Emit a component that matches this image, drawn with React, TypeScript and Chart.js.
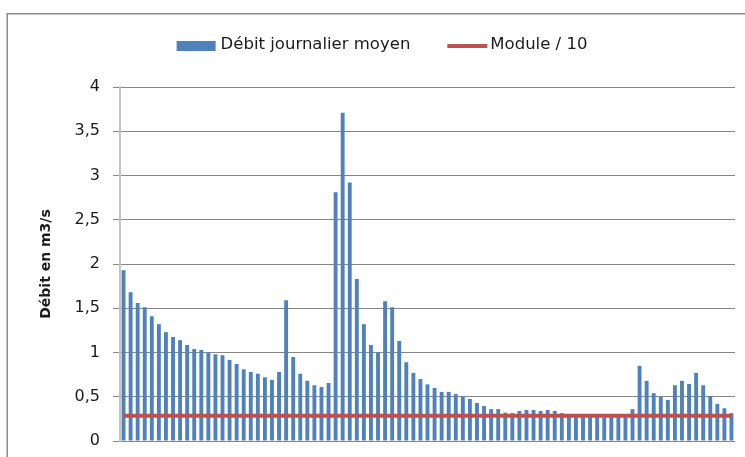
import React, { useEffect, useRef } from "react";
import { Chart, registerables } from "chart.js";

Chart.register(...registerables);

// ---- Data ----
const days = [
  "1", "2", "3", "4", "5", "6", "7", "8", "9", "10",
  "11", "12", "13", "14", "15", "16", "17", "18", "19", "20",
  "21", "22", "23", "24", "25", "26", "27", "28", "29", "30",
  "31", "32", "33", "34", "35", "36", "37", "38", "39", "40",
  "41", "42", "43", "44", "45", "46", "47", "48", "49", "50",
  "51", "52", "53", "54", "55", "56", "57", "58", "59", "60",
  "61", "62", "63", "64", "65", "66", "67", "68", "69", "70",
  "71", "72", "73", "74", "75", "76", "77", "78", "79", "80",
  "81", "82", "83", "84", "85", "86", "87",
];

const debitJournalierMoyen = [
  1.93, 1.68, 1.56, 1.51, 1.41, 1.32, 1.23, 1.175, 1.14, 1.085,
  1.04, 1.03, 1.0, 0.98, 0.97, 0.915, 0.87, 0.81, 0.78, 0.76,
  0.72, 0.69, 0.78, 1.59, 0.95, 0.76, 0.68, 0.63, 0.61, 0.655,
  2.81, 3.71, 2.92, 1.83, 1.32, 1.085, 1.0, 1.58, 1.51, 1.13,
  0.89, 0.77, 0.7, 0.64, 0.6, 0.555, 0.555, 0.53, 0.5, 0.475,
  0.43, 0.395, 0.36, 0.36, 0.32, 0.315, 0.34, 0.35, 0.35, 0.34,
  0.35, 0.34, 0.315, 0.28, 0.28, 0.27, 0.28, 0.28, 0.27, 0.28,
  0.28, 0.28, 0.36, 0.85, 0.68, 0.54, 0.5, 0.465, 0.63, 0.68,
  0.645, 0.77, 0.63, 0.51, 0.42, 0.37, 0.315,
];

const moduleSur10Value = 0.286;
const moduleSur10 = debitJournalierMoyen.map(() => moduleSur10Value);

const legendLabels = ["Débit journalier moyen", "Module / 10"];
const yAxisTitle = "Débit en m3/s";
const yMin = 0;
const yMax = 4;
const yStep = 0.5;

// ---- Styles ----
const BAR_COLOR = "#4F81BD";
const LINE_COLOR = "#C0504D";
const GRID_COLOR = "#868686";
const TEXT_COLOR = "#1a1a1a";
const FONT = '"DejaVu Sans", sans-serif';

const framePlugin = {
  id: "frame",
  beforeDraw(chart: any) {
    const ctx = chart.ctx;
    ctx.save();
    ctx.fillStyle = "#ffffff";
    ctx.fillRect(0, 0, chart.width, chart.height);
    ctx.strokeStyle = "#8c8c8c";
    ctx.lineWidth = 1.5;
    ctx.strokeRect(7.25, 13.75, 780, 480);
    ctx.restore();
  },
};

const legendPlugin = {
  id: "customLegend",
  afterDraw(chart: any) {
    const ctx = chart.ctx;
    ctx.save();
    ctx.font = `16.5px ${FONT}`;
    const w1 = ctx.measureText(legendLabels[0]).width;
    const w2 = ctx.measureText(legendLabels[1]).width;
    const boxW = 39;
    const gap1 = 5;
    const gapItems = 37;
    const lineW = 40;
    const gap2 = 3;
    const total = boxW + gap1 + w1 + gapItems + lineW + gap2 + w2;
    let x = 382 - total / 2;
    const yc = 46;
    ctx.fillStyle = BAR_COLOR;
    ctx.fillRect(x, yc - 5, boxW, 10);
    x += boxW + gap1;
    ctx.fillStyle = TEXT_COLOR;
    ctx.textBaseline = "middle";
    ctx.textAlign = "left";
    ctx.fillText(legendLabels[0], x, yc - 1);
    x += w1 + gapItems;
    ctx.strokeStyle = LINE_COLOR;
    ctx.lineWidth = 4;
    ctx.beginPath();
    ctx.moveTo(x, yc);
    ctx.lineTo(x + lineW, yc);
    ctx.stroke();
    x += lineW + gap2;
    ctx.fillText(legendLabels[1], x, yc - 1);
    ctx.restore();
  },
};

export default function App() {
  const canvasRef = useRef<HTMLCanvasElement | null>(null);

  useEffect(() => {
    if (!canvasRef.current) return;
    const chart = new Chart(canvasRef.current, {
      type: "bar",
      data: {
        labels: days,
        datasets: [
          {
            type: "bar",
            label: legendLabels[0],
            data: debitJournalierMoyen,
            backgroundColor: BAR_COLOR,
            borderWidth: 0,
            categoryPercentage: 1,
            barPercentage: 0.55,
            order: 1,
          },
          {
            type: "line",
            label: legendLabels[1],
            data: moduleSur10,
            borderColor: LINE_COLOR,
            backgroundColor: LINE_COLOR,
            borderWidth: 4,
            pointRadius: 0,
            tension: 0,
            order: 0,
          } as any,
        ],
      },
      options: {
        responsive: false,
        animation: false,
        layout: { padding: { top: 87, left: 0, right: 10, bottom: 16 } },
        plugins: {
          legend: { display: false },
          tooltip: { enabled: false },
          title: { display: false },
        },
        scales: {
          x: {
            type: "category",
            offset: true,
            display: false,
          },
          y: {
            min: yMin,
            max: yMax,
            ticks: {
              stepSize: yStep,
              padding: 13,
              color: TEXT_COLOR,
              font: { family: FONT, size: 16 },
              callback: (v: any) => String(v).replace(".", ","),
            },
            grid: {
              color: GRID_COLOR,
              lineWidth: 1,
              tickLength: 7,
              drawTicks: true,
            },
            border: { display: true, color: "#c4c4c4", width: 2 },
            title: {
              display: true,
              text: yAxisTitle,
              color: TEXT_COLOR,
              font: { family: FONT, size: 14, weight: "bold" },
              padding: { top: 38, bottom: 0 },
            },
            afterFit(scale: any) {
              scale.width = 120;
              scale.paddingTop = 0;
              scale.paddingBottom = 0;
            },
          },
        },
      },
      plugins: [framePlugin, legendPlugin],
    });
    return () => chart.destroy();
  }, []);

  return (
    <div style={{ position: "fixed", left: 0, top: 0, width: 745, height: 457 }}>
      <canvas ref={canvasRef} width={745} height={457} style={{ display: "block" }} />
    </div>
  );
}
